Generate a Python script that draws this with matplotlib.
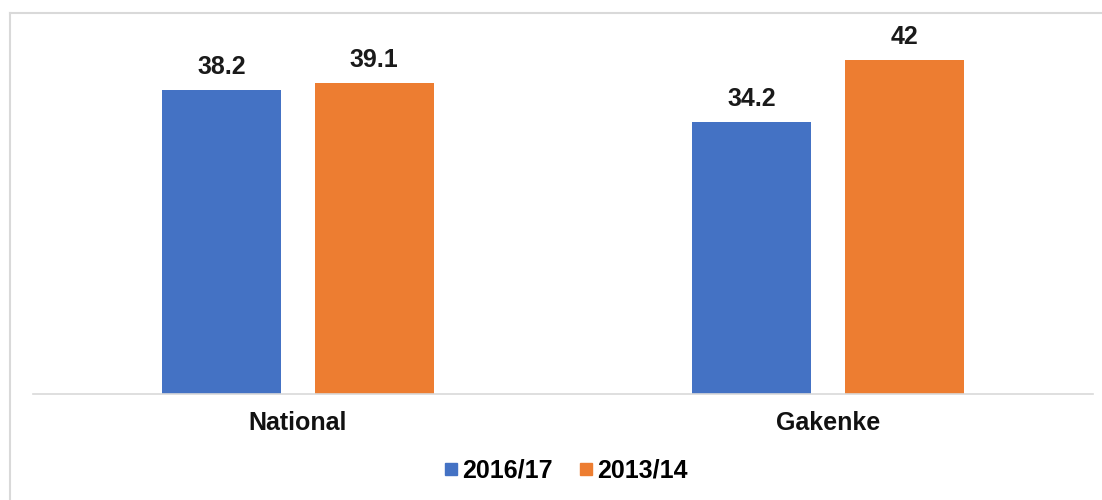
import numpy as np
import matplotlib
matplotlib.use("Agg")
import matplotlib.pyplot as plt
from matplotlib.lines import Line2D

# data
categories = ["National", "Gakenke"]
series_names = ["2016/17", "2013/14"]
values_2016 = [38.2, 34.2]
values_2013 = [39.1, 42]
colors = ["#4472C4", "#ED7D31"]

plt.rcParams["font.family"] = ["Liberation Sans", "DejaVu Sans"]
plt.rcParams["font.weight"] = "bold"

fig = plt.figure(figsize=(11.02, 5.0), dpi=100)
ax = fig.add_axes([33 / 1102, 106 / 500, 1060 / 1102, 366 / 500])

x = np.arange(len(categories))
w = 0.225
off = 0.1437
b1 = ax.bar(x - off, values_2016, w, color=colors[0], label=series_names[0])
b2 = ax.bar(x + off, values_2013, w, color=colors[1], label=series_names[1])

for bars, vals in [(b1, values_2016), (b2, values_2013)]:
    for rect, v in zip(bars, vals):
        ax.annotate(f"{v:g}", (rect.get_x() + rect.get_width() / 2, v),
                    xytext=(0, 11.5), textcoords="offset points",
                    ha="center", va="baseline", fontsize=18,
                    fontweight="bold", color="#1a1a1a")

ax.set_xlim(-0.5, 1.5)
ax.set_ylim(0, 46)
ax.set_xticks(x)
ax.set_xticklabels(categories, fontsize=18, fontweight="bold", color="#111111")
ax.tick_params(axis="x", length=0, pad=12)
ax.set_yticks([])
for s in ["top", "right", "left"]:
    ax.spines[s].set_visible(False)
ax.spines["bottom"].set_color("#D9D9D9")
ax.spines["bottom"].set_linewidth(1.2)

handles = [Line2D([], [], marker="s", linestyle="none", markersize=9,
                  markerfacecolor=c, markeredgecolor=c) for c in colors]
fig.legend(handles, series_names, loc="center", bbox_to_anchor=(0.512, 29 / 500),
           ncol=2, frameon=False, prop={"size": 18, "weight": "bold"},
           handletextpad=0.05, columnspacing=0.9, handlelength=0.8)

# light grey frame around the chart area
fig.add_artist(Line2D([9.5 / 1102, 9.5 / 1102], [0, 1 - 13 / 500],
                      color="#D9D9D9", linewidth=1.5))
fig.add_artist(Line2D([9.5 / 1102, 1], [1 - 13 / 500, 1 - 13 / 500],
                      color="#D9D9D9", linewidth=1.5))

fig.savefig("out.png", dpi=100)
